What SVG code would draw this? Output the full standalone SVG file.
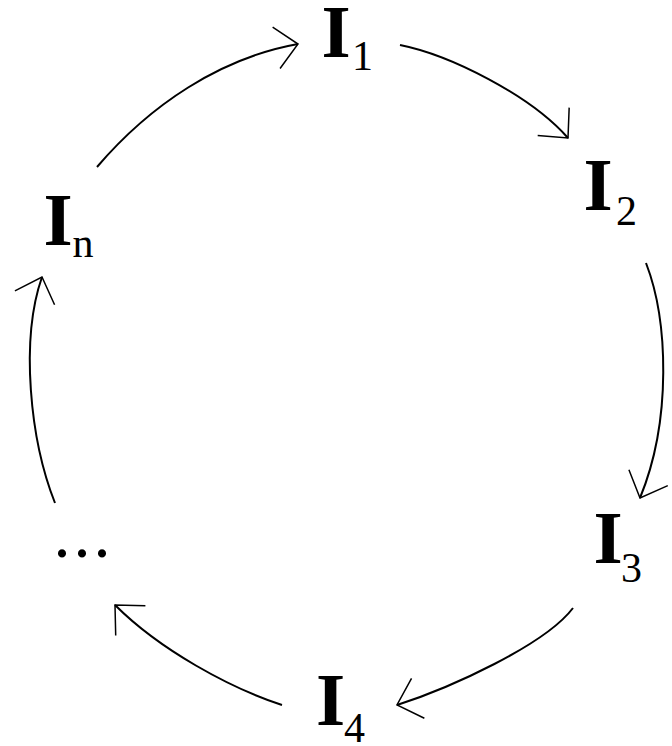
<svg xmlns="http://www.w3.org/2000/svg" width="672" height="746" viewBox="0 0 672 746">
<style>
.big{font-family:"Liberation Serif","Times New Roman",serif;font-weight:bold;font-size:75px;fill:#000}
.sub{font-family:"Liberation Serif","Times New Roman",serif;font-size:42px;fill:#000}
.dots{font-family:"Liberation Serif","Times New Roman",serif;font-weight:bold;font-size:50px;letter-spacing:7.5px;fill:#000}
.edge{fill:none;stroke:#000;stroke-width:2;marker-end:url(#ah)}
</style>
<defs>
<marker id="ah" viewBox="-26 -26 30 52" refX="0" refY="0" markerWidth="30" markerHeight="52" markerUnits="userSpaceOnUse" orient="auto" overflow="visible">
<path d="M-22,-21 L0,0 L-22,21" fill="none" stroke="#000" stroke-width="1.5"/>
</marker>
</defs>
<rect width="672" height="746" fill="#fff"/>
<g id="connectors">
<path class="edge" d="M97,167 C150,105 220,58 298,44"/>
<path class="edge" d="M400,45 C450,55 530,95 568,138"/>
<path class="edge" d="M646,263 C668,320 672,420 640,498"/>
<path class="edge" d="M573,608 C545,645 450,688 397,705"/>
<path class="edge" d="M282,705 C230,688 160,650 115,605"/>
<path class="edge" d="M55,503 C30,440 20,340 42,277"/>
</g>
<g id="node-I1"><text class="big" x="321.5" y="57">I</text><text class="sub" x="352" y="70">1</text></g>
<g id="node-I2"><text class="big" x="583.5" y="210">I</text><text class="sub" x="616" y="225">2</text></g>
<g id="node-I3"><text class="big" x="593.5" y="563">I</text><text class="sub" x="621" y="582">3</text></g>
<g id="node-I4"><text class="big" x="316" y="725">I</text><text class="sub" x="344" y="742">4</text></g>
<g id="node-dots"><text class="dots" x="55.75" y="557">...</text></g>
<g id="node-In"><text class="big" x="43.5" y="245">I</text><text class="sub" x="72.5" y="257">n</text></g>
</svg>
